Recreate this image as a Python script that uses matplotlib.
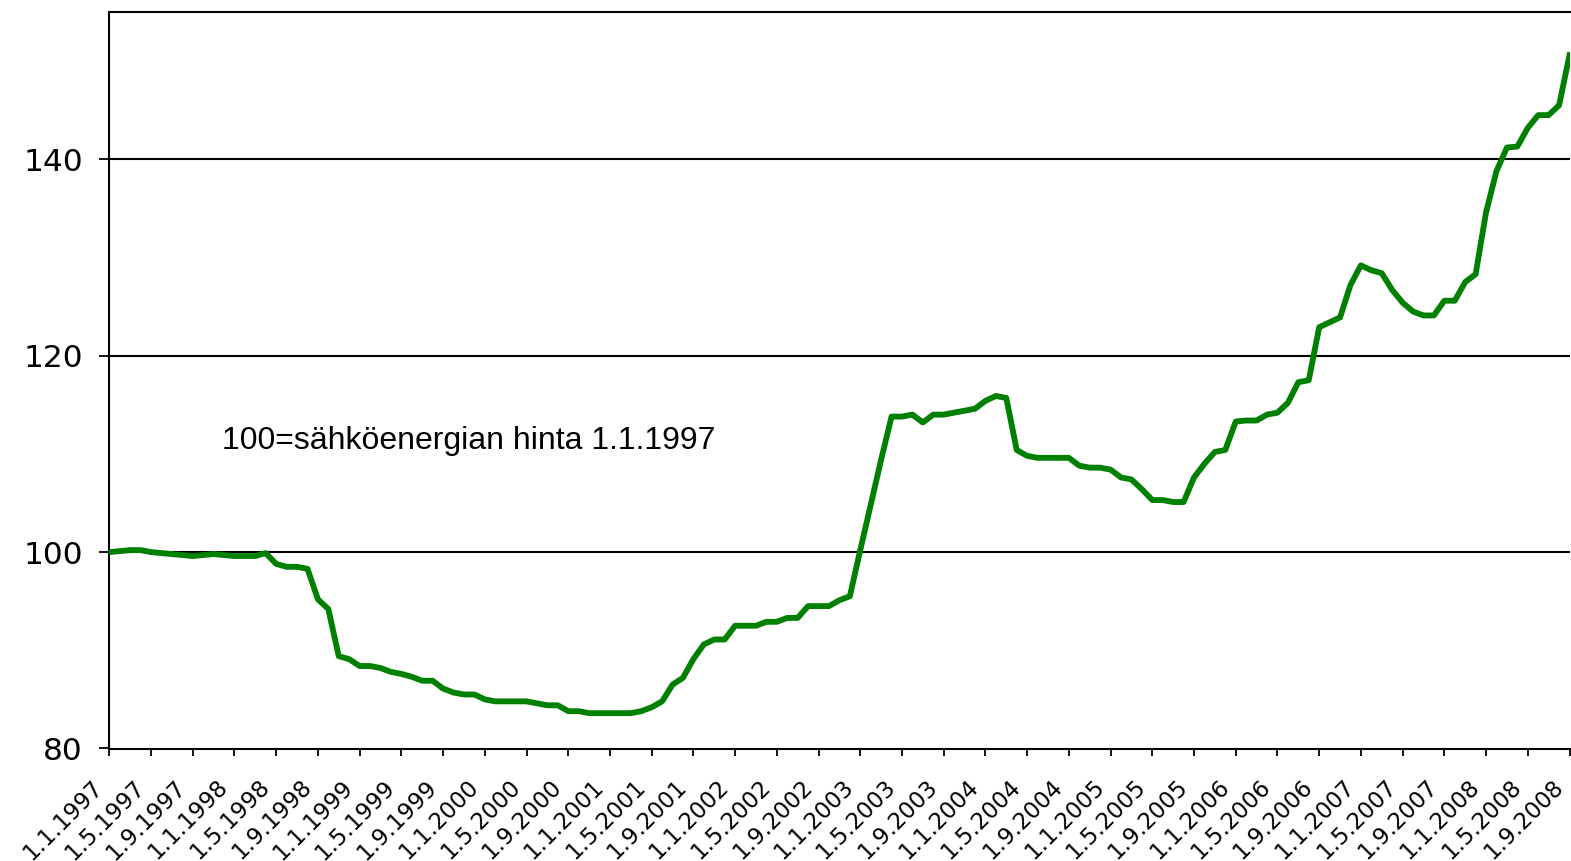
import matplotlib.pyplot as plt
import matplotlib.transforms as mtransforms

# sähköenergian hintaindeksi, kuukausittain 1.1.1997 - 1.9.2008 (100 = 1.1.1997)
hinta = [
    100.0, 100.1, 100.2, 100.2, 100.0, 99.9, 99.8, 99.7, 99.6, 99.7,
    99.8, 99.7, 99.6, 99.6, 99.6, 99.9, 98.8, 98.5, 98.5, 98.3,
    95.2, 94.2, 89.4, 89.1, 88.4, 88.4, 88.2, 87.8, 87.6, 87.3,
    86.9, 86.9, 86.1, 85.7, 85.5, 85.5, 85.0, 84.8, 84.8, 84.8,
    84.8, 84.6, 84.4, 84.4, 83.8, 83.8, 83.6, 83.6, 83.6, 83.6,
    83.6, 83.8, 84.2, 84.8, 86.5, 87.2, 89.1, 90.6, 91.1, 91.1,
    92.5, 92.5, 92.5, 92.9, 92.9, 93.3, 93.3, 94.5, 94.5, 94.5,
    95.1, 95.5, 100.2, 104.8, 109.4, 113.8, 113.8, 114.0, 113.2, 114.0,
    114.0, 114.2, 114.4, 114.6, 115.4, 115.9, 115.7, 110.4, 109.8, 109.6,
    109.6, 109.6, 109.6, 108.8, 108.6, 108.6, 108.4, 107.6, 107.4, 106.4,
    105.3, 105.3, 105.1, 105.1, 107.6, 109.0, 110.2, 110.4, 113.3, 113.4,
    113.4, 114.0, 114.2, 115.2, 117.3, 117.5, 122.9, 123.4, 123.9, 127.2,
    129.2, 128.7, 128.4, 126.7, 125.4, 124.5, 124.1, 124.1, 125.6, 125.6,
    127.5, 128.3, 134.6, 138.8, 141.2, 141.3, 143.2, 144.5, 144.5, 145.5,
    150.6,
]

vuodet = list(range(1997, 2009))
kuukaudet = [1, 5, 9]
tick_labels = [f"1.{k}.{v}" for v in vuodet for k in kuukaudet]
tick_pos = list(range(0, len(hinta), 4))

y_ticks = [80, 100, 120, 140]
teksti = "100=sähköenergian hinta 1.1.1997"

fig = plt.figure(figsize=(15.71, 8.61), dpi=100)
ax = fig.add_axes([109.3 / 1571, 1 - 748.5 / 861, (1569.5 - 109.3) / 1571, (748.5 - 12) / 861])

x = list(range(len(hinta)))
ax.plot(x, hinta, color='#008000', linewidth=4.2, solid_joinstyle='round', zorder=3)

ax.set_xlim(0, len(hinta) - 1)
ax.set_ylim(80, 155)

# vaakaviivat
for yt in y_ticks[1:]:
    ax.axhline(yt, color='black', linewidth=1.5, zorder=1)

ax.set_yticks(y_ticks)
ax.set_yticklabels([str(v) for v in y_ticks], fontsize=22.5, family='DejaVu Sans')
ax.tick_params(axis='y', direction='out', length=7, width=1.3, pad=12)

ax.set_xticks(tick_pos)
ax.set_xticklabels(tick_labels, fontsize=16.5, family='DejaVu Sans',
                   rotation=45, ha='right', va='center', rotation_mode='anchor')
ax.tick_params(axis='x', direction='out', length=5, width=1.3, pad=0)

# siirretään kulmassa olevat päivämäärät
offset = mtransforms.ScaledTranslation(-10 / 100, -28 / 100, fig.dpi_scale_trans)
for lab in ax.get_xticklabels():
    lab.set_transform(lab.get_transform() + offset)

for side in ['top', 'left', 'bottom']:
    ax.spines[side].set_linewidth(1.5)
    ax.spines[side].set_color('black')
ax.spines['right'].set_visible(False)

ax.text(10.8, 111.3, teksti, fontsize=23, family='Liberation Sans', va='center', ha='left')

plt.savefig('out.png', dpi=100)
